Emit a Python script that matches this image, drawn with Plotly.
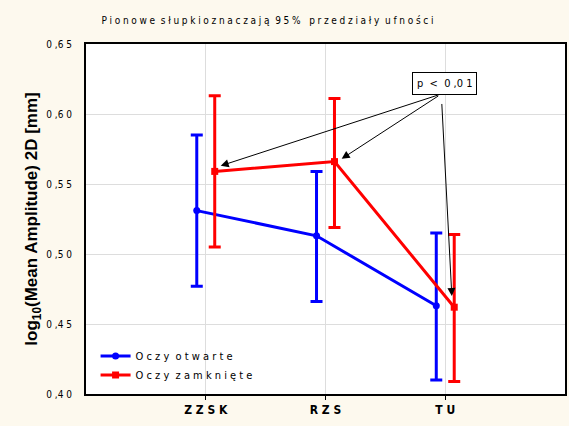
import plotly.graph_objects as go

categories = ["ZZSK", "RZS", "TU"]
cat_labels = ["Z Z S K", "R Z S", "T U"]

open_mean = [0.531, 0.513, 0.463]
open_upper = [0.585, 0.559, 0.515]
open_lower = [0.477, 0.466, 0.410]

closed_mean = [0.559, 0.566, 0.462]
closed_upper = [0.613, 0.611, 0.514]
closed_lower = [0.505, 0.519, 0.409]

y_ticks = [0.40, 0.45, 0.50, 0.55, 0.60, 0.65]
y_ticktext = ["0 ,4 0", "0 ,4 5", "0 ,5 0", "0 ,5 5", "0 ,6 0", "0 ,6 5"]

NARROW = "DejaVu Sans Condensed, Liberation Sans Narrow, sans-serif"
off = 0.075
xi = list(range(len(categories)))


def spaced(s, gap="\u2009\u200a"):
    words = s.split(" ")
    return "\u00a0\u00a0".join(gap.join(list(w)) for w in words)


title_text = spaced("Pionowe słupkioznaczają 95%") + "\u00a0\u00a0\u00a0" + spaced("przedziały ufności")

fig = go.Figure()
fig.add_trace(go.Scatter(
    x=[i - off for i in xi], y=open_mean, mode="lines+markers",
    name="O c z y  o t w a r t e",
    line=dict(color="#0000FF", width=3),
    marker=dict(symbol="circle", size=7, color="#0000FF"),
    error_y=dict(type="data", symmetric=False,
                 array=[u - m for u, m in zip(open_upper, open_mean)],
                 arrayminus=[m - l for m, l in zip(open_mean, open_lower)],
                 color="#0000FF", thickness=3, width=6),
))
fig.add_trace(go.Scatter(
    x=[i + off for i in xi], y=closed_mean, mode="lines+markers",
    name="O c z y  z a m k n i ę t e",
    line=dict(color="#FF0000", width=3),
    marker=dict(symbol="square", size=7, color="#FF0000"),
    error_y=dict(type="data", symmetric=False,
                 array=[u - m for u, m in zip(closed_upper, closed_mean)],
                 arrayminus=[m - l for m, l in zip(closed_mean, closed_lower)],
                 color="#FF0000", thickness=3, width=6),
))

# p-value box and arrows
tail_x, tail_y = 1.967, 0.6143
heads = [(0 + off + 0.05, closed_mean[0] + 0.004),
         (1 + off + 0.06, closed_mean[1] + 0.002),
         (2 + off - 0.02, closed_mean[2] + 0.008)]
for hx, hy in heads:
    fig.add_annotation(x=hx, y=hy, ax=tail_x, ay=tail_y, xref="x", yref="y",
                       axref="x", ayref="y", showarrow=True, arrowhead=2,
                       arrowsize=1.6, arrowwidth=1, arrowcolor="black", text=" ")
fig.add_annotation(x=1.99, y=0.622, xref="x", yref="y", showarrow=False,
                   text="p  <  0 ,0 1", font=dict(family=NARROW, size=11, color="black"),
                   bordercolor="black", borderwidth=1, borderpad=4, bgcolor="white")

fig.update_layout(
    width=569, height=426, autosize=False,
    margin=dict(l=86, r=4, t=44, b=32, autoexpand=False),
    paper_bgcolor="#FDF9EE", plot_bgcolor="white",
    title=dict(text=title_text,
               x=0.47, xanchor="center", y=0.952, yanchor="middle",
               font=dict(family=NARROW, size=10, color="black")),
    showlegend=True,
    legend=dict(x=0.02, y=0.15, xanchor="left", yanchor="top",
                bgcolor="rgba(0,0,0,0)", font=dict(family=NARROW, size=11, color="black"),
                tracegroupgap=0, itemwidth=30),
    xaxis=dict(range=[-1, 3], tickvals=xi, ticktext=["<b>" + t + "</b>" for t in cat_labels],
               showgrid=True, gridcolor="#DDDDDD", gridwidth=1,
               ticks="outside", ticklen=4, tickcolor="black",
               tickfont=dict(family=NARROW, size=12, color="black"),
               showline=True, linecolor="black", linewidth=2, mirror=True,
               zeroline=False, automargin=False),
    yaxis=dict(range=[0.40, 0.65], tickvals=y_ticks, ticktext=y_ticktext,
               showgrid=True, gridcolor="#DDDDDD", gridwidth=1,
               ticks="outside", ticklen=10, tickcolor="rgba(0,0,0,0)",
               tickfont=dict(family=NARROW, size=10, color="black"),
               showline=True, linecolor="black", linewidth=2, mirror=True,
               zeroline=False, automargin=False,
               title=dict(text="<b>log<sub>10</sub>(Mean Amplitude) 2D [mm]</b>",
                          font=dict(family="Liberation Sans, Arial, sans-serif", size=17, color="black"),
                          standoff=4)),
)
fig.write_html("out.html", config={"displayModeBar": False},
               post_script="document.body.style.margin='0';document.body.style.padding='0';document.body.style.overflow='hidden';")
